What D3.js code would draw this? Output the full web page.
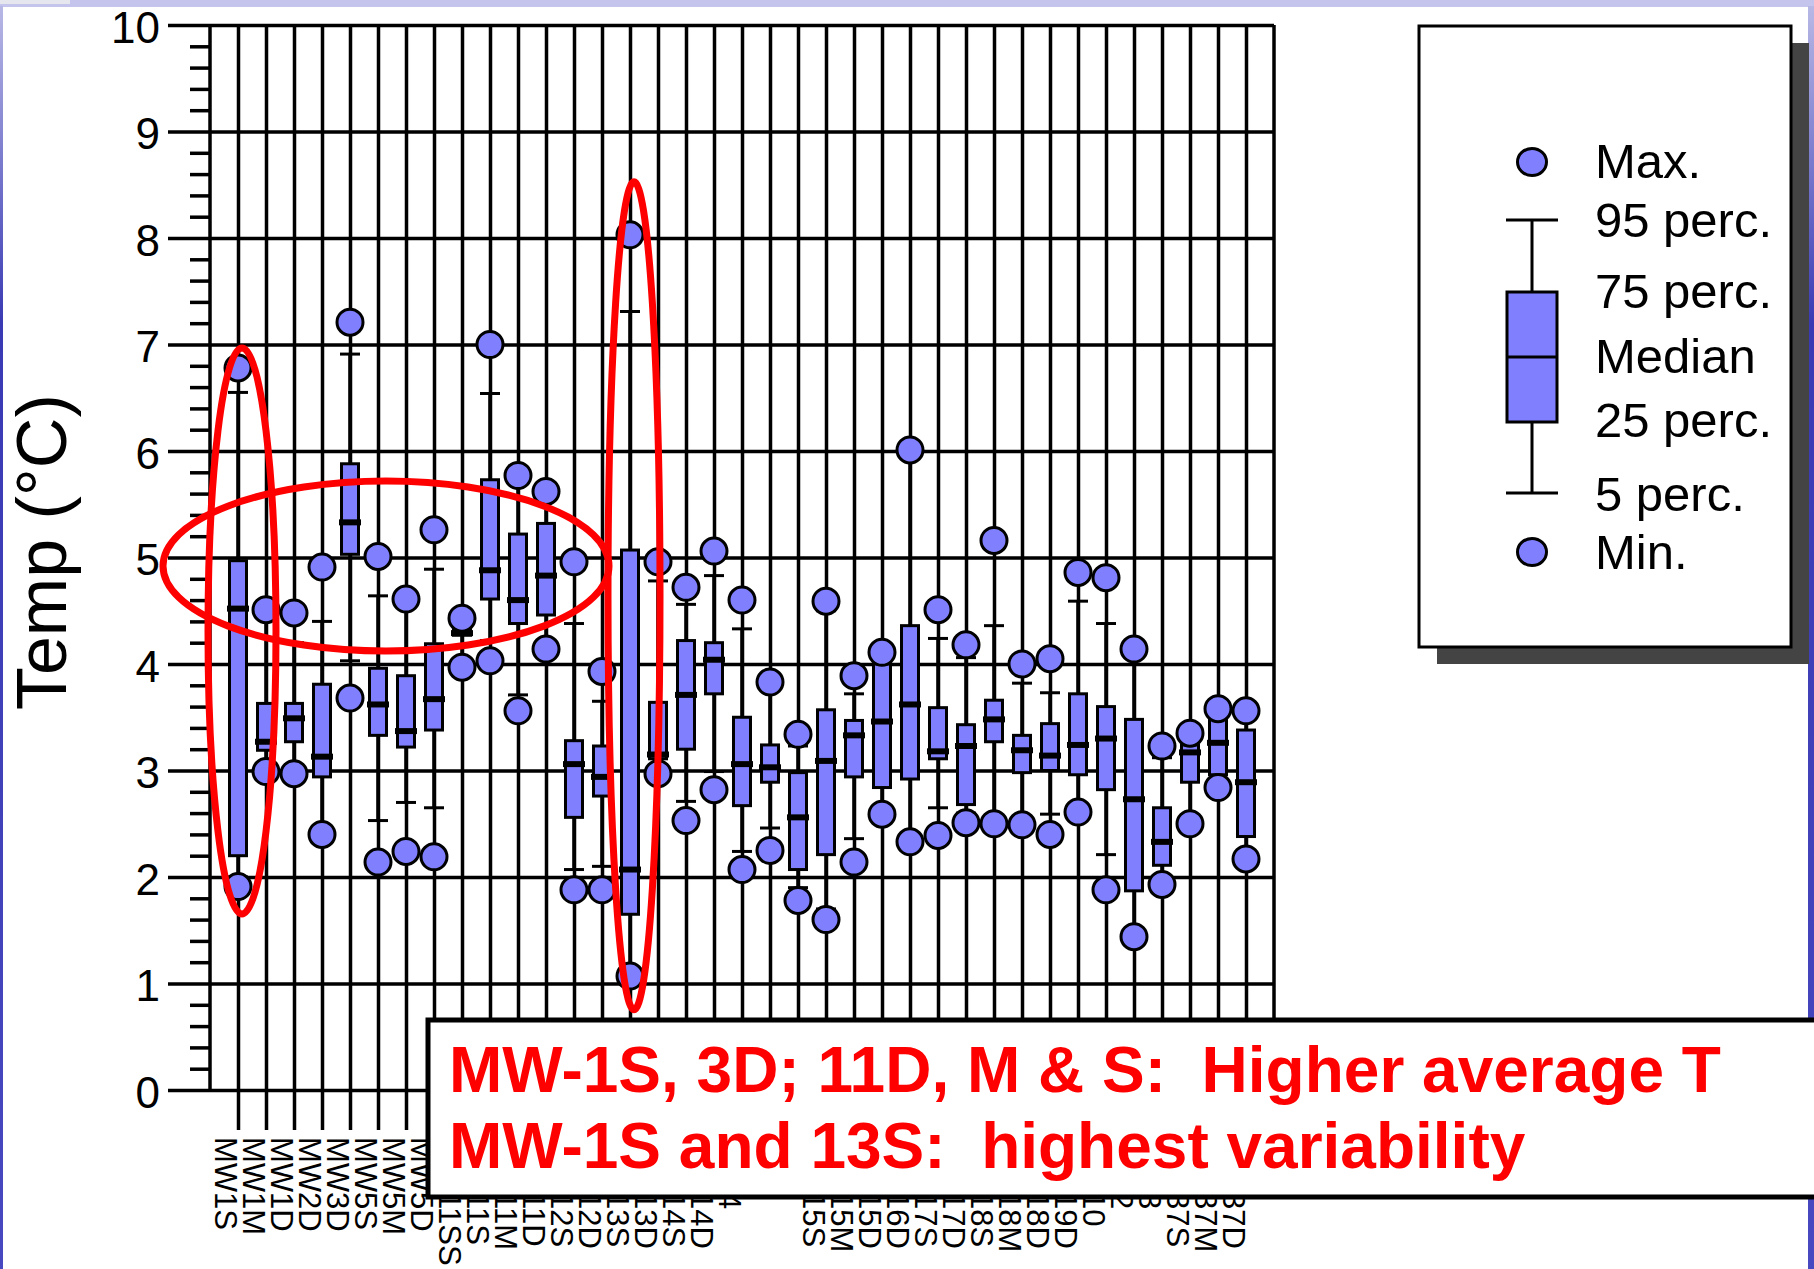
<!DOCTYPE html>
<html>
<head>
<meta charset="utf-8">
<script src="https://cdn.jsdelivr.net/npm/d3@7"></script>
<style>
  body { margin: 0; background: #fff; }
  svg { display: block; font-family: "Liberation Sans", Arial, Helvetica, sans-serif; }
</style>
</head>
<body>
<div id="chart"></div>
<script>
// wells on the x axis, in plotted order
const wells = ['MW1S', 'MW1M', 'MW1D', 'MW2D', 'MW3D', 'MW5S', 'MW5M', 'MW5D',
  'MW11SS', 'MW11S', 'MW11M', 'MW11D', 'MW12S', 'MW12D', 'MW13S', 'MW13D',
  'MW14S', 'MW14D', 'MW4', 'PZ1', 'PZ2', 'MW15S', 'MW15M', 'MW15D', 'MW16D',
  'MW17S', 'MW17D', 'MW18S', 'MW18M', 'MW18D', 'MW19D', 'MW10', 'MW2', 'MW3',
  'MW37S', 'MW37M', 'MW37D'];

// temperature statistics (deg C), one value per well
const maxT = [6.78, 4.51, 4.48, 4.91, 7.21, 5.01, 4.61, 5.26, 4.43, 7.00, 5.77, 5.62,
  4.96, 3.93, 8.03, 4.96, 4.72, 5.06, 4.60, 3.83, 3.34, 4.59, 3.89, 4.11, 6.01,
  4.51, 4.18, 5.16, 4.00, 4.05, 4.86, 4.81, 4.14, 3.23, 3.35, 3.58, 3.56];
const p95 = [6.55, 4.45, 4.20, 4.40, 6.91, 4.64, 4.55, 4.89, 4.33, 6.54, 5.70, 5.55,
  4.38, 3.65, 7.31, 4.78, 4.56, 4.83, 4.33, 3.78, 3.23, 4.50, 3.72, 4.05, 5.95,
  4.24, 4.06, 4.36, 3.82, 3.73, 4.59, 4.38, 4.08, 3.12, 3.28, 3.52, 3.48];
const p75 = [4.97, 3.63, 3.63, 3.81, 5.88, 3.96, 3.89, 4.19, 4.31, 5.73, 5.22, 5.32,
  3.28, 3.23, 5.07, 3.64, 4.22, 4.20, 3.50, 3.24, 2.98, 3.57, 3.47, 4.00, 4.36,
  3.59, 3.43, 3.66, 3.33, 3.44, 3.72, 3.60, 3.48, 2.65, 3.24, 3.48, 3.38];
const median = [4.52, 3.27, 3.49, 3.13, 5.33, 3.62, 3.37, 3.67, 4.29, 4.88, 4.60, 4.83,
  3.06, 2.94, 2.07, 3.15, 3.71, 4.04, 3.06, 3.03, 2.56, 3.09, 3.33, 3.46, 3.62,
  3.18, 3.23, 3.48, 3.19, 3.14, 3.24, 3.30, 2.73, 2.33, 3.17, 3.26, 2.89];
const p25 = [2.20, 3.19, 3.27, 2.94, 5.03, 3.33, 3.22, 3.38, 4.27, 4.61, 4.38, 4.46,
  2.56, 2.76, 1.65, 3.11, 3.20, 3.72, 2.67, 2.89, 2.07, 2.21, 2.94, 2.84, 2.92,
  3.11, 2.68, 3.27, 2.98, 3.00, 2.96, 2.82, 1.87, 2.11, 2.89, 2.96, 2.38];
const p5 = [2.00, 3.05, 3.05, 2.45, 4.03, 2.53, 2.70, 2.65, 4.05, 4.22, 3.71, 4.20,
  2.07, 2.10, 1.15, 3.02, 2.71, 2.99, 2.24, 2.46, 1.90, 1.70, 2.36, 2.65, 2.40,
  2.65, 2.60, 2.58, 2.57, 2.59, 2.68, 2.21, 1.50, 2.00, 2.58, 2.90, 2.25];
const minT = [1.91, 2.99, 2.97, 2.40, 3.68, 2.14, 2.24, 2.19, 3.97, 4.03, 3.56, 4.14,
  1.88, 1.88, 1.07, 2.97, 2.53, 2.82, 2.07, 2.25, 1.78, 1.60, 2.14, 2.59, 2.33,
  2.39, 2.51, 2.50, 2.49, 2.40, 2.61, 1.88, 1.44, 1.93, 2.50, 2.84, 2.17];

const legendLabels = ['Max.', '95 perc.', '75 perc.', 'Median', '25 perc.', '5 perc.', 'Min.'];
const noteLines = ['MW-1S, 3D; 11D, M & S:  Higher average T', 'MW-1S and 13S:  highest variability'];

const width = 1814;
const height = 1269;
const boxFill = '#8080ff';
const gridWidth = 3.5;

const svg = d3.select('#chart').append('svg')
  .attr('width', width)
  .attr('height', height);

// scales
const y = d3.scaleLinear().domain([0, 10]).range([1090, 25]);
const x = d3.scalePoint().domain(wells).range([238, 1246]);
const step = x.step();
const plotLeft = x(wells[0]) - step;
const plotRight = x(wells[wells.length - 1]) + step;

// slide edges
const defs = svg.append('defs');
const edge = defs.append('linearGradient').attr('id', 'edge')
  .attr('x1', 0).attr('y1', 0).attr('x2', 0).attr('y2', 1);
edge.append('stop').attr('offset', '0%').attr('stop-color', '#b8b8e6');
edge.append('stop').attr('offset', '25%').attr('stop-color', '#3a3ab4');
edge.append('stop').attr('offset', '100%').attr('stop-color', '#4848c0');
svg.append('rect').attr('x', 0).attr('y', 0).attr('width', width).attr('height', 7)
  .attr('fill', '#c4c4ec');
svg.append('rect').attr('x', 0).attr('y', 0).attr('width', 70).attr('height', 4)
  .attr('fill', '#e6e6ee');
svg.append('rect').attr('x', 0).attr('y', 6).attr('width', 3).attr('height', height)
  .attr('fill', 'url(#edge)');
svg.append('rect').attr('x', width - 6).attr('y', 6).attr('width', 6).attr('height', height)
  .attr('fill', 'url(#edge)');

// major y gridlines + labels
const yAxis = svg.append('g')
  .attr('transform', 'translate(168,0)')
  .style('color', '#000')
  .call(d3.axisLeft(y).ticks(10).tickSize(-(plotRight - 168)).tickPadding(8));
yAxis.select('.domain').remove();
yAxis.selectAll('line').attr('stroke-width', gridWidth);
yAxis.selectAll('text')
  .attr('dy', '0.39em')
  .style('font-size', '44px')
  .attr('fill', '#000');

// minor y ticks every 0.2
const minorTicks = d3.range(1, 50).filter((i) => i % 5 !== 0).map((i) => i / 5);
const yMinor = svg.append('g')
  .attr('transform', `translate(${plotLeft},0)`)
  .style('color', '#000')
  .call(d3.axisLeft(y).tickValues(minorTicks).tickSize(20).tickFormat(''));
yMinor.select('.domain').remove();
yMinor.selectAll('line').attr('stroke-width', gridWidth);

// vertical lines per well, with rotated labels
const xAxis = svg.append('g')
  .attr('transform', 'translate(0,1130)')
  .style('color', '#000')
  .call(d3.axisBottom(x).tickSize(-(1130 - y(10))).tickPadding(0));
xAxis.select('.domain').remove();
xAxis.selectAll('line').attr('stroke-width', gridWidth);
xAxis.selectAll('text')
  .attr('transform', 'rotate(90)')
  .attr('x', 7)
  .attr('y', 24)
  .attr('dy', 0)
  .attr('text-anchor', 'start')
  .style('font-size', '31px')
  .attr('fill', '#000');

// frame: y axis line and right border
svg.append('line')
  .attr('x1', plotLeft).attr('x2', plotLeft).attr('y1', y(10)).attr('y2', y(0))
  .attr('stroke', '#000').attr('stroke-width', gridWidth);
svg.append('line')
  .attr('x1', plotRight).attr('x2', plotRight).attr('y1', y(10)).attr('y2', y(0))
  .attr('stroke', '#000').attr('stroke-width', gridWidth);

// y title
svg.append('text')
  .attr('transform', `translate(66,${y(5.05)}) rotate(-90)`)
  .attr('text-anchor', 'middle')
  .style('font-size', '70px')
  .attr('fill', '#000')
  .text('Temp (°C)');

// box plots
const rows = wells.map((w, i) => ({
  w, max: maxT[i], p95: p95[i], p75: p75[i], med: median[i], p25: p25[i], p5: p5[i], min: minT[i],
}));
const boxes = svg.append('g').selectAll('g').data(rows).enter()
  .append('g')
  .attr('transform', (d) => `translate(${x(d.w)},0)`);

boxes.append('line')
  .attr('y1', (d) => y(d.p95)).attr('y2', (d) => y(d.p5))
  .attr('stroke', '#000').attr('stroke-width', gridWidth);
boxes.selectAll('.cap').data((d) => [d.p95, d.p5]).enter()
  .append('line')
  .attr('x1', -10).attr('x2', 10)
  .attr('y1', (v) => y(v)).attr('y2', (v) => y(v))
  .attr('stroke', '#000').attr('stroke-width', 3);
boxes.append('rect')
  .attr('x', -8.5).attr('width', 17)
  .attr('y', (d) => y(d.p75))
  .attr('height', (d) => Math.max(1, y(d.p25) - y(d.p75)))
  .attr('fill', boxFill).attr('stroke', '#000').attr('stroke-width', 3);
boxes.append('line')
  .attr('x1', -11).attr('x2', 11)
  .attr('y1', (d) => y(d.med)).attr('y2', (d) => y(d.med))
  .attr('stroke', '#000').attr('stroke-width', 6);
boxes.selectAll('.dot').data((d) => [d.max, d.min]).enter()
  .append('circle')
  .attr('cy', (v) => y(v))
  .attr('r', 13)
  .attr('fill', boxFill).attr('stroke', '#000').attr('stroke-width', 3);

// red highlight ellipses
const marks = svg.append('g').attr('fill', 'none').attr('stroke', '#ff0000').attr('stroke-width', 7);
marks.append('ellipse')
  .attr('cx', x('MW1S') + 4).attr('cy', y(4.31)).attr('rx', 34).attr('ry', 283);
marks.append('ellipse')
  .attr('cx', x('MW5S') + 8).attr('cy', y(4.92)).attr('rx', 223).attr('ry', 85);
marks.append('ellipse')
  .attr('cx', x('MW13S') + 4).attr('cy', y(4.64)).attr('rx', 26).attr('ry', 414);

// legend
const legend = svg.append('g');
legend.append('rect')
  .attr('x', 1437).attr('y', 43).attr('width', 372).attr('height', 621)
  .attr('fill', '#444');
legend.append('rect')
  .attr('x', 1419).attr('y', 26).attr('width', 372).attr('height', 621)
  .attr('fill', '#fff').attr('stroke', '#000').attr('stroke-width', 3);
const lx = 1532;
legend.append('line').attr('x1', lx).attr('x2', lx).attr('y1', 220).attr('y2', 493)
  .attr('stroke', '#000').attr('stroke-width', 3);
[220, 493].forEach((yy) => {
  legend.append('line').attr('x1', lx - 26).attr('x2', lx + 26).attr('y1', yy).attr('y2', yy)
    .attr('stroke', '#000').attr('stroke-width', 3);
});
legend.append('rect')
  .attr('x', lx - 25).attr('y', 292).attr('width', 50).attr('height', 130)
  .attr('fill', boxFill).attr('stroke', '#000').attr('stroke-width', 3);
legend.append('line').attr('x1', lx - 25).attr('x2', lx + 25).attr('y1', 357).attr('y2', 357)
  .attr('stroke', '#000').attr('stroke-width', 3);
[162, 552].forEach((yy) => {
  legend.append('ellipse').attr('cx', lx).attr('cy', yy).attr('rx', 14.5).attr('ry', 13.5)
    .attr('fill', boxFill).attr('stroke', '#000').attr('stroke-width', 3);
});
const legendBase = [178, 237, 308, 373, 437, 511, 569];
legend.selectAll('.lbl').data(legendLabels).enter()
  .append('text')
  .attr('x', 1595)
  .attr('y', (d, i) => legendBase[i])
  .style('font-size', '49px')
  .attr('fill', '#000')
  .text((d) => d);

// annotation box
const note = svg.append('g');
note.append('rect')
  .attr('x', 428).attr('y', 1020).attr('width', 1420).attr('height', 177)
  .attr('fill', '#fff').attr('stroke', '#000').attr('stroke-width', 5);
note.selectAll('text').data(noteLines).enter()
  .append('text')
  .attr('x', 449)
  .attr('y', (d, i) => 1092 + i * 76)
  .style('font-size', '64px')
  .style('font-weight', 'bold')
  .style('white-space', 'pre')
  .attr('fill', '#ff0000')
  .text((d) => d);
</script>
</body>
</html>
